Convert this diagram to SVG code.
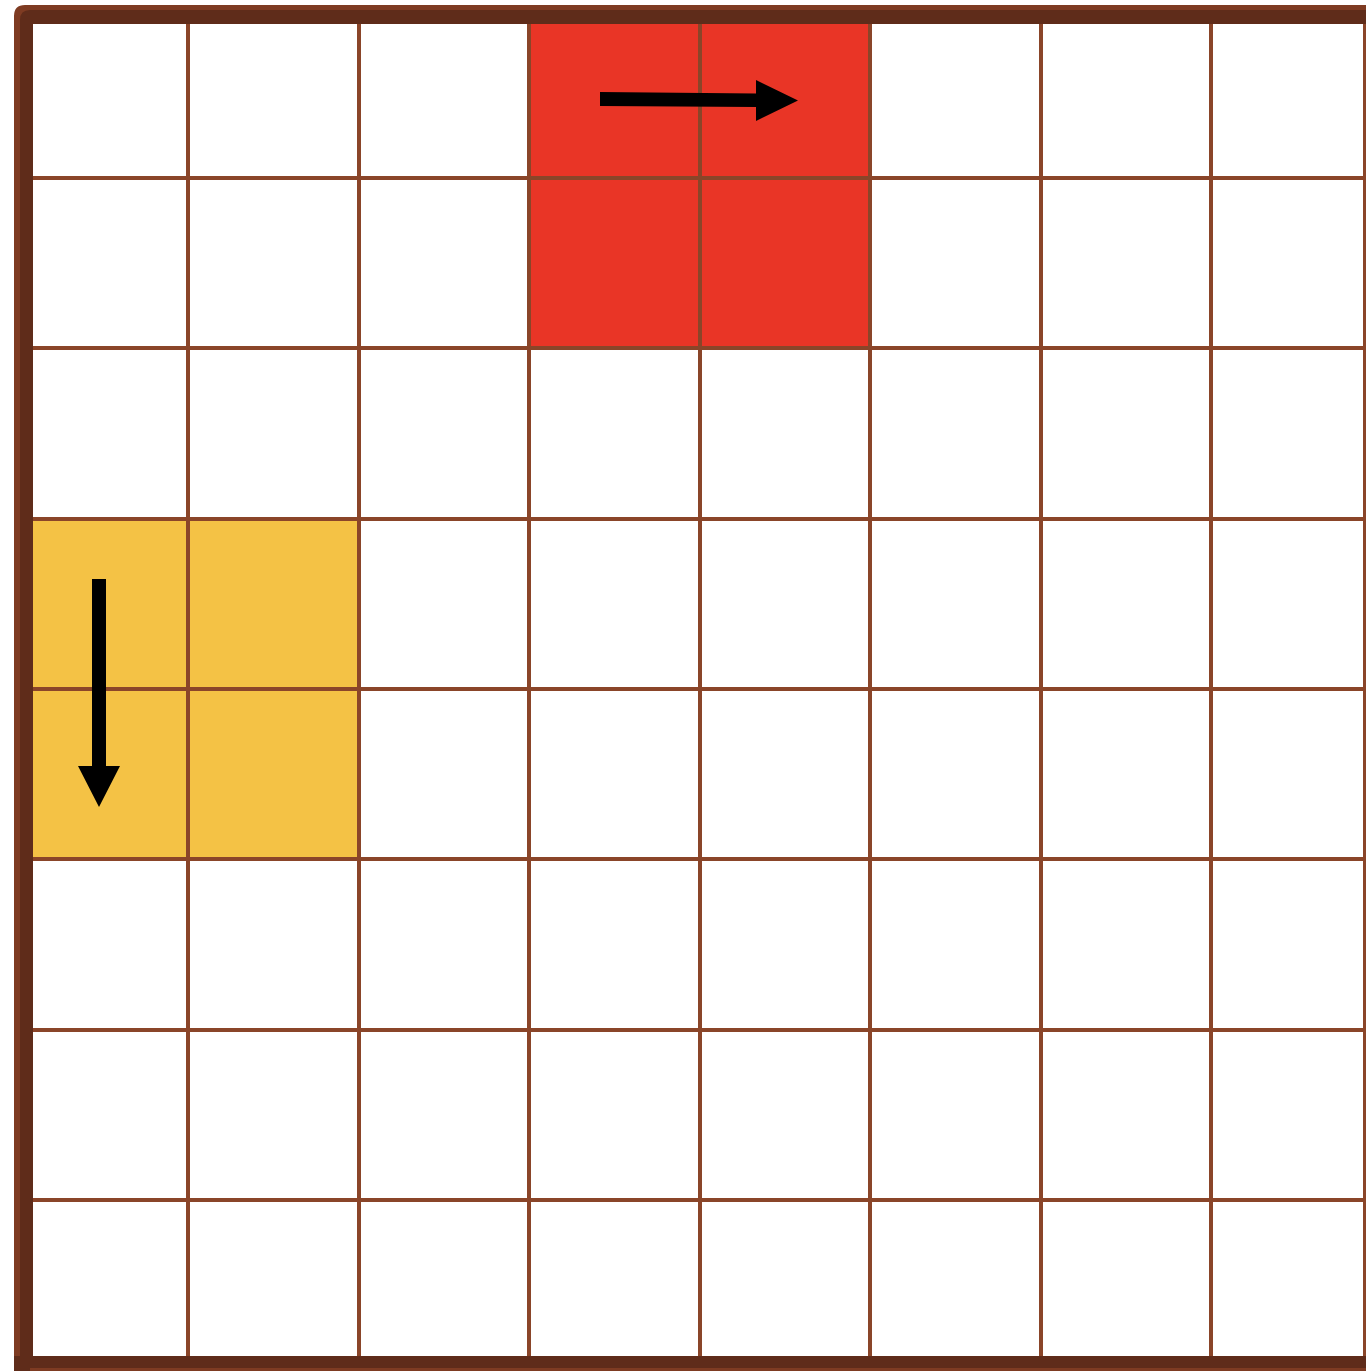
<svg xmlns="http://www.w3.org/2000/svg" width="1366" height="1371" viewBox="0 0 1366 1371">
<style>
.grid line{stroke:#8a4529;stroke-width:4}
.arrow{fill:#000}
</style>
<rect x="0" y="0" width="1366" height="1371" fill="#fff"/>
<g id="red-block"><rect x="529" y="22" width="341" height="326" fill="#e93526"/></g>
<g id="yellow-block"><rect x="30" y="519" width="329" height="340" fill="#f4c245"/></g>
<g class="grid" id="grid">
<line x1="188" y1="20" x2="188" y2="1358"/>
<line x1="359" y1="20" x2="359" y2="1358"/>
<line x1="529" y1="20" x2="529" y2="1358"/>
<line x1="700" y1="20" x2="700" y2="1358"/>
<line x1="870" y1="20" x2="870" y2="1358"/>
<line x1="1041" y1="20" x2="1041" y2="1358"/>
<line x1="1211" y1="20" x2="1211" y2="1358"/>
<line x1="28" y1="178" x2="1366" y2="178"/>
<line x1="28" y1="348" x2="1366" y2="348"/>
<line x1="28" y1="519" x2="1366" y2="519"/>
<line x1="28" y1="689" x2="1366" y2="689"/>
<line x1="28" y1="859" x2="1366" y2="859"/>
<line x1="28" y1="1030" x2="1366" y2="1030"/>
<line x1="28" y1="1200" x2="1366" y2="1200"/>
<line x1="1365" y1="20" x2="1365" y2="1358" stroke="#7a5a4a" stroke-width="1.5"/>
</g>
<g id="border">
<path d="M14 1370 V16 Q14 5 25 5 H1366 V24 H33 V1370 Z" fill="#7e3b22"/>
<path d="M20 1356 V20 Q20 10 30 10 H1366 V24 H33 V1356 Z" fill="#5f2c1a"/>
<rect x="14" y="1356" width="1352" height="15" fill="#5f2c1a"/>
<rect x="30" y="1368" width="1336" height="3" fill="#7e3b22"/>
</g>
<g id="connectors">
<g id="arrow-right">
<polygon class="arrow" points="600,92 756,93.5 756,80 798,100.5 756,121 756,107 600,106"/>
</g>
<g id="arrow-down">
<polygon class="arrow" points="92,579 106,579 106,766 120,766 99,807 78,766 92,766"/>
</g>
</g>
</svg>
